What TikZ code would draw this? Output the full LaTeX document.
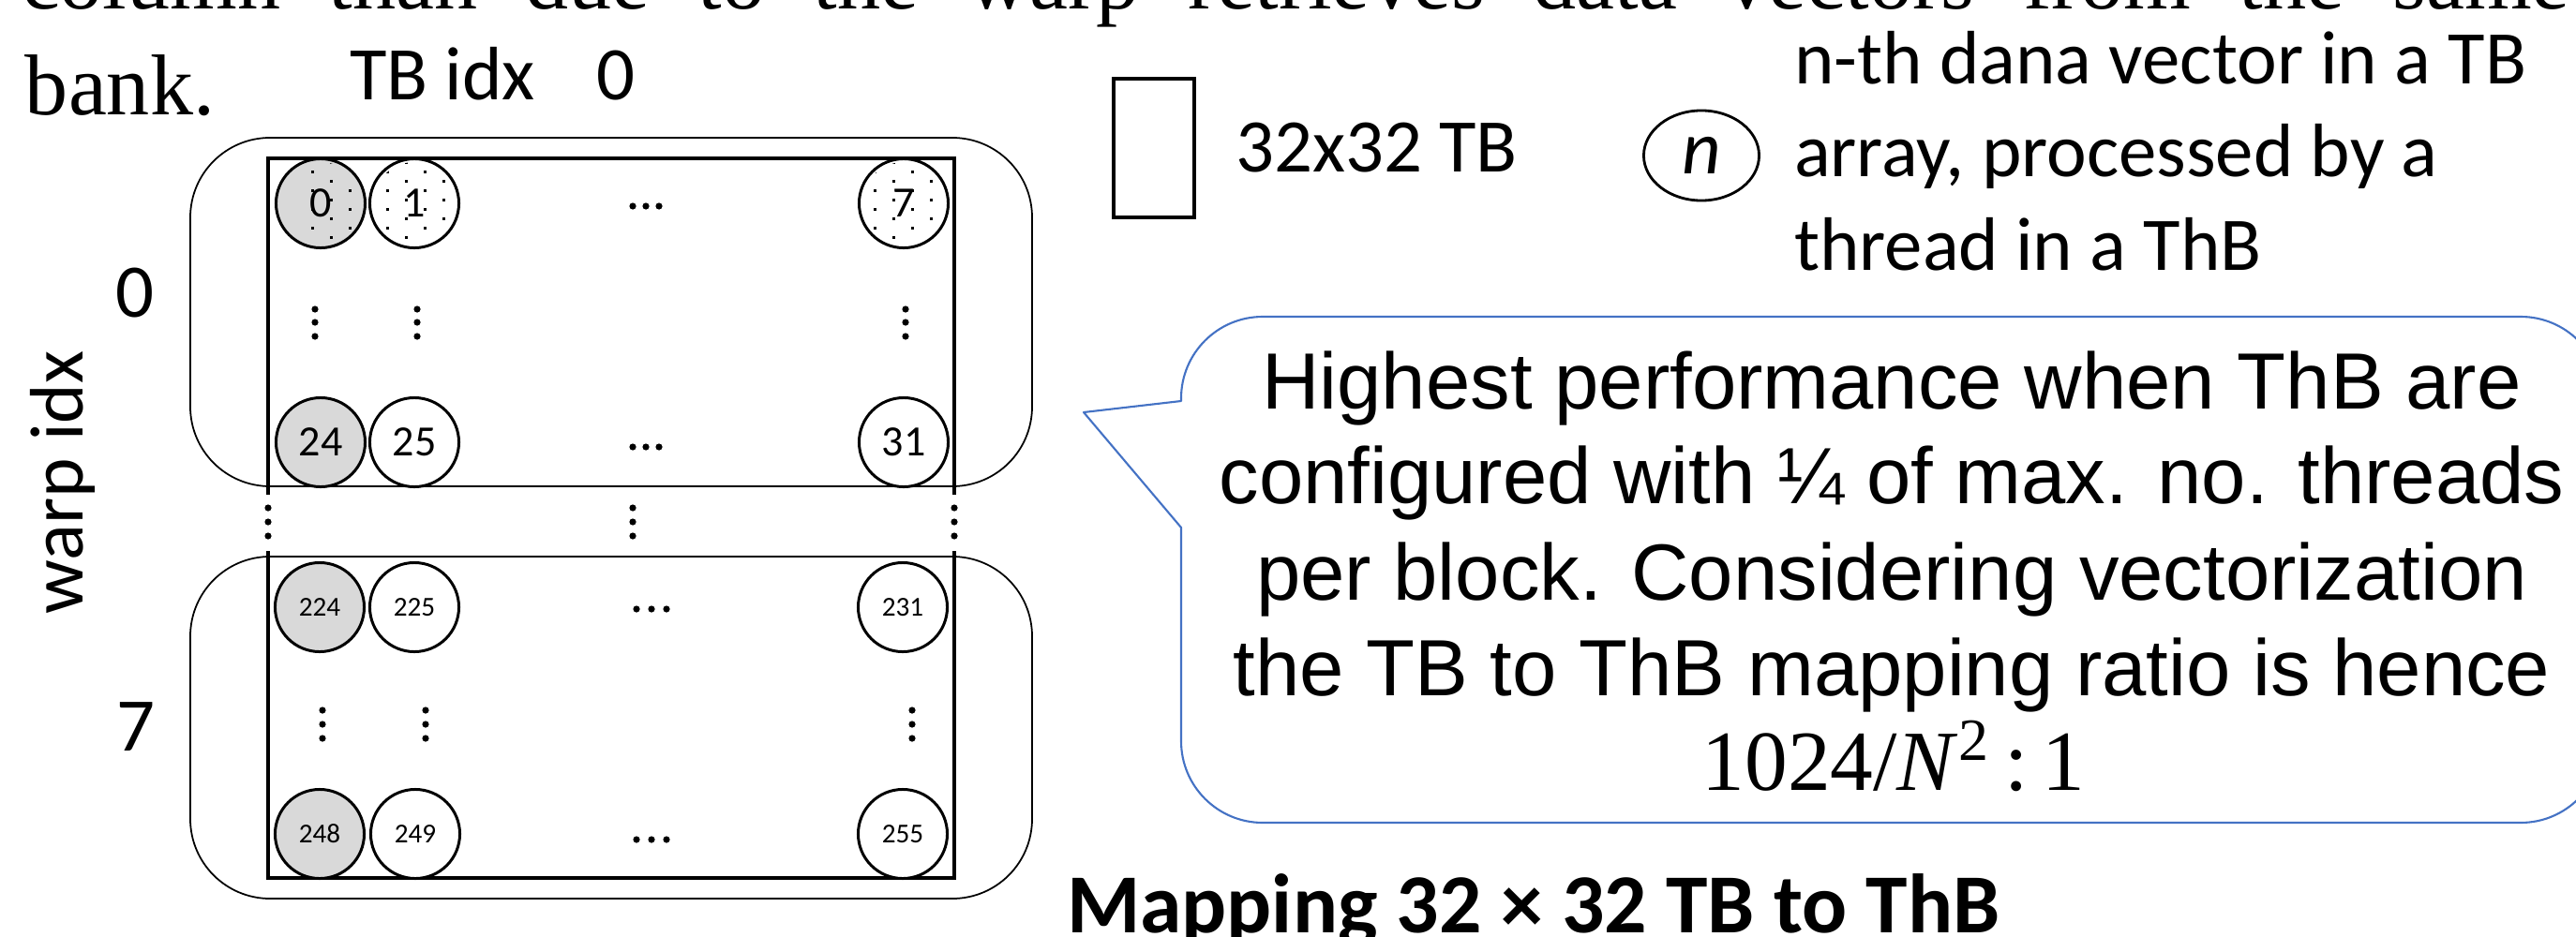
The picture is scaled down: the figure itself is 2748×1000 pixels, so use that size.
\documentclass[tikz,border=0pt]{standalone}
\usepackage{fontspec}
\usetikzlibrary{shapes.geometric}
\newfontfamily\calibri{Carlito}
\newfontfamily\arialfam{Liberation Sans}
\newfontfamily\serifbody{Liberation Serif}
\newcommand\bodyfont{\serifbody\fontsize{26.2}{31.4}\selectfont}
\newcommand\lblfont{\calibri\fontsize{23}{27.6}\selectfont}
\newcommand\cellbig{\calibri\fontsize{13.1}{15.7}\selectfont}
\newcommand\cellsmall{\calibri\fontsize{8.3}{10}\selectfont}
\newcommand\calloutfont{\arialfam\fontsize{24.2}{29}\selectfont}
\newcommand\ratiofont{\serifbody\fontsize{26}{31}\selectfont}
\newcommand\titlefont{\calibri\bfseries\fontsize{25.5}{30.6}\selectfont}
\definecolor{lanegray}{HTML}{D9D9D9}
\definecolor{calloutblue}{HTML}{4472C4}
\begin{document}
\begin{tikzpicture}[x=0.01cm,y=-0.01cm,
  every node/.style={inner sep=0pt, outer sep=0pt},
  warpbox/.style={draw, line width=0.5pt, rounded corners=0.85cm},
  tbline/.style={line width=1.1pt},
  cell/.style={circle, draw, line width=0.85pt, minimum size=0.95cm, fill=white, font=\cellbig},
  firstcol/.style={fill=lanegray},
  smallcell/.style={font=\cellsmall},
  lbl/.style={font=\lblfont},
  callouttext/.style={font=\calloutfont, anchor=base},
  calloutline/.style={draw=calloutblue, line width=0.6pt, line join=round},
]
\useasboundingbox (0,0) rectangle (2748,1000);
\clip (0,0) rectangle (2748,1000);

% running text of the page
\node[anchor=base west, font=\bodyfont] (para1) at (23,10)
  {\makebox[27.17cm][s]{column than due to the warp retrieves data vectors from the same}};
\node[anchor=base west, font=\bodyfont] (para2) at (27,122) {bank.};

% axis labels
\node[lbl, anchor=base west] (tbidx) at (373,106) {TB idx\hspace*{0.66cm}0};
\node[lbl, anchor=base] (w0) at (144,338) {0};
\node[lbl, anchor=base] (w7) at (145,801) {7};
\node[lbl, rotate=90, anchor=base] (widx) at (88,515) {warp idx};

% warp groups
\draw[warpbox] (203,147) rectangle (1101,519);
\draw[warpbox] (203,594) rectangle (1101,959);

% the 32x32 tile, broken between the warps
\draw[tbline] (286,528) -- (286,169) -- (1018,169) -- (1018,528);
\draw[tbline] (286,588) -- (286,937) -- (1018,937) -- (1018,588);

% data vectors handled by threads
\node[cell, firstcol] (c0) at (342,217) {0};
\node[cell] (c1) at (442,217) {1};
\node[cell] (c7) at (964,217) {7};
\node[cell, firstcol] (c24) at (342,472) {24};
\node[cell] (c25) at (442,472) {25};
\node[cell] (c31) at (964,472) {31};
\node[cell, firstcol, smallcell] (c224) at (341,648) {224};
\node[cell, smallcell] (c225) at (442,648) {225};
\node[cell, smallcell] (c231) at (963,648) {231};
\node[cell, firstcol, smallcell] (c248) at (341,890) {248};
\node[cell, smallcell] (c249) at (443,890) {249};
\node[cell, smallcell] (c255) at (963,890) {255};

% dotted pattern on the first row (one lattice shared by the row)
\foreach \cn in {c0,c1,c7}{
  \begin{scope}
    \clip (\cn.center) circle (44);
    \foreach \ii in {0,...,9}{
      \foreach \kk in {0,...,17}{
        \fill ({353+40*\kk-20*mod(\ii,2)-1.5},{173+10*\ii-1.5}) rectangle ++(3,3);
      }
    }
  \end{scope}
}

% vertical ellipses inside the warps
\foreach \xx in {336,445,966}{\foreach \yy in {330,344,359}{\fill (\xx,\yy) circle (3.6);}}
\foreach \xx in {344,454,973}{\foreach \yy in {758,773,788}{\fill (\xx,\yy) circle (3.6);}}
% vertical ellipses between the warps
\foreach \xx in {286,675,1018}{\foreach \yy in {542,557,572}{\fill (\xx,\yy) circle (3.6);}}
% horizontal ellipses
\foreach \xx in {675,689,703}{\fill (\xx,220) circle (3.6); \fill (\xx,477) circle (3.6);}
\foreach \xx in {679,695,711}{\fill (\xx,650) circle (3.6); \fill (\xx,896) circle (3.6);}

% legend
\node[draw, line width=1.1pt, minimum width=0.86cm, minimum height=1.48cm] (legtb) at (1231,158) {};
\node[lbl, anchor=base west] (legtbtxt) at (1318,183) {32x32 TB};
\node[ellipse, draw, line width=0.8pt, minimum width=1.23cm, minimum height=0.96cm, lbl] (legn) at (1815,166) {\itshape n};
\node[lbl, anchor=base west] (legl1) at (1914,90) {n-th dana vector in a TB};
\node[lbl, anchor=base west] (legl2) at (1914,188) {array, processed by a};
\node[lbl, anchor=base west] (legl3) at (1914,288) {thread in a ThB};

% callout
\draw[calloutline] (1260,425) arc (180:270:87) -- (2689,338) arc (270:360:87)
  -- (2776,791) arc (0:90:87) -- (1347,878) arc (90:180:87)
  -- (1260,563) -- (1156,440) -- (1260,428) -- cycle;
\node[callouttext] (cl1) at (2018,436) {Highest performance when ThB are};
\node[callouttext] (cl2) at (2018,537) {configured with ¼ of max. no. threads};
\node[callouttext] (cl3) at (2018,640) {per block. Considering vectorization};
\node[callouttext] (cl4) at (2018,742) {the TB to ThB mapping ratio is hence};
\node[callouttext, font=\ratiofont] (cl5) at (2020,843) {1024/\textit{N}\textsuperscript{2}\,:\,1};

% caption
\node[font=\titlefont, anchor=base west] (title) at (1138,995) {Mapping 32 × 32 TB to ThB};
\end{tikzpicture}
\end{document}
